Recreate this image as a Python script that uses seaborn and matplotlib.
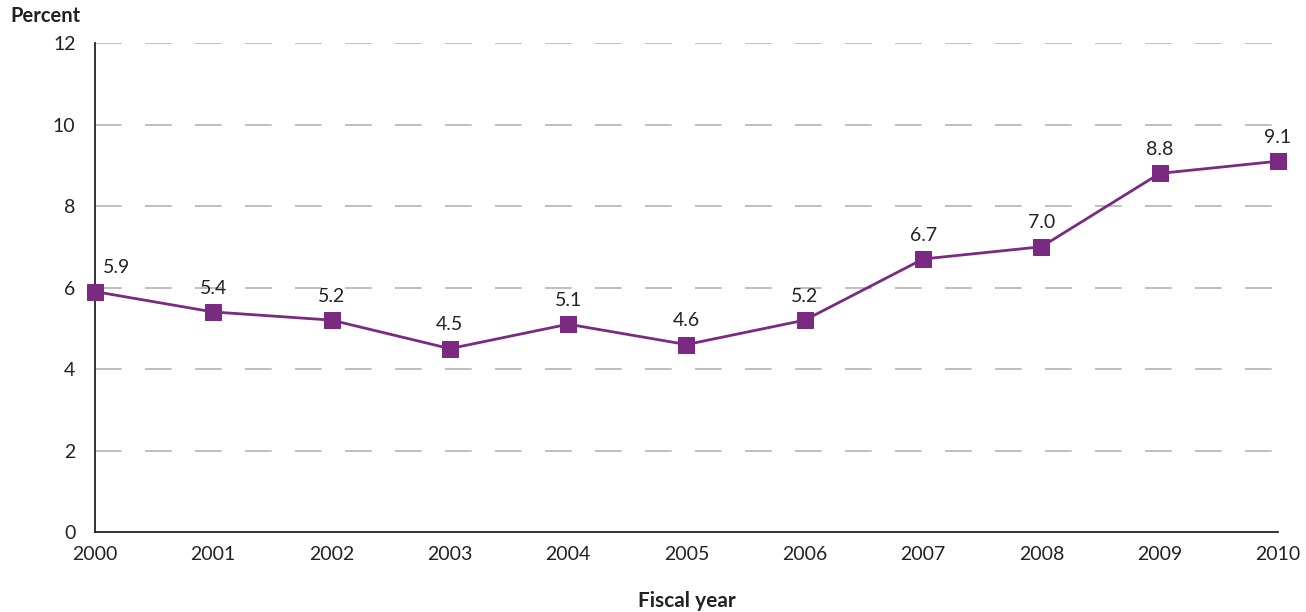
import matplotlib
matplotlib.use("Agg")
import matplotlib.pyplot as plt
import seaborn as sns
import pandas as pd

years = [2000, 2001, 2002, 2003, 2004, 2005, 2006, 2007, 2008, 2009, 2010]
values = [5.9, 5.4, 5.2, 4.5, 5.1, 4.6, 5.2, 6.7, 7.0, 8.8, 9.1]
labels = ["5.9", "5.4", "5.2", "4.5", "5.1", "4.6", "5.2", "6.7", "7.0", "8.8", "9.1"]
yticks = [0, 2, 4, 6, 8, 10, 12]

sns.set_style("white")
plt.rcParams['font.family'] = ['Lato', 'DejaVu Sans']

df = pd.DataFrame({"year": years, "value": values})
color = "#7B2A82"

fig = plt.figure(figsize=(13.06, 6.12), dpi=100)
ax = fig.add_axes([0.0727, 0.1307, 0.9059, 0.799])

for y in yticks[1:]:
    ax.axhline(y, color="#b3b3b3", lw=1.2, dashes=(16, 14), zorder=0)

sns.lineplot(data=df, x="year", y="value", ax=ax, color=color, lw=2,
             marker="s", markersize=11, markeredgecolor=color, zorder=3, clip_on=False)

for x, y, t in zip(years, values, labels):
    dx = 6 if x == 2000 else 0
    ax.annotate(t, (x, y), xytext=(dx, 11), textcoords="offset points",
                ha="left" if x == 2000 else "center", va="bottom", fontsize=14, color="#222222")

ax.set_xlim(2000, 2010)
ax.set_ylim(0, 12)
ax.set_xticks(years)
ax.set_xticklabels([str(y) for y in years], fontsize=14, color="#222222")
ax.set_yticks(yticks)
ax.set_yticklabels([str(y) for y in yticks], fontsize=14, color="#222222")
ax.tick_params(axis="x", direction="out", length=7, width=1.2, color="#222222", pad=3)
ax.tick_params(axis="y", length=0, pad=14)
for s in ["top", "right"]:
    ax.spines[s].set_visible(False)
for s in ["left", "bottom"]:
    ax.spines[s].set_color("#222222")
    ax.spines[s].set_linewidth(1.3)
ax.set_xlabel("Fiscal year", fontsize=15, fontweight="bold", labelpad=20, color="#222222")
ax.set_ylabel("")
fig.text(10/1306, 1-16/612, "Percent", fontsize=14.5, fontweight="bold", va="center", ha="left", color="#222222")

fig.savefig("out.png", dpi=100)
